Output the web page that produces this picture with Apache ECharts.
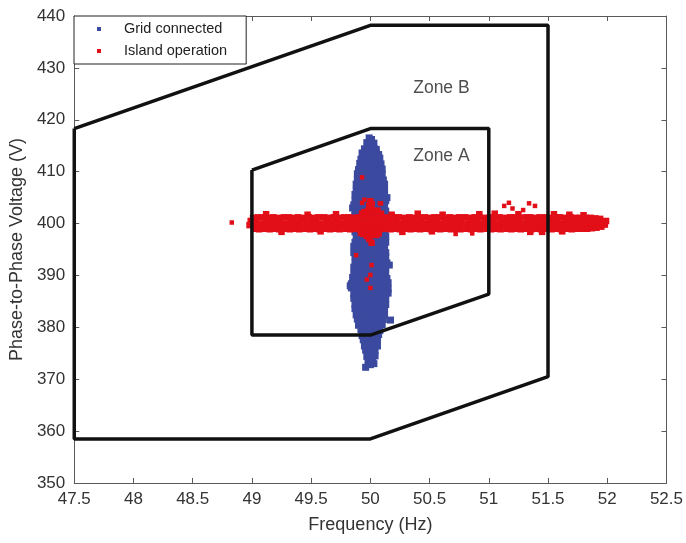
<!DOCTYPE html>
<html>
<head>
<meta charset="utf-8">
<script src="https://cdn.jsdelivr.net/npm/echarts@6/dist/echarts.min.js"></script>
<style>
  html, body { margin: 0; padding: 0; background: #fff; }
  #chart { width: 686px; height: 543px; }
</style>
</head>
<body>
<div id="chart"></div>
<script>
// Axis ticks
const freqTicks = [47.5, 48, 48.5, 49, 49.5, 50, 50.5, 51, 51.5, 52, 52.5];
const voltTicks = [350, 360, 370, 380, 390, 400, 410, 420, 430, 440];

// Operating envelopes (frequency Hz, phase-to-phase voltage V)
const zoneB = [[47.5, 418.3], [50, 438.2], [51.5, 438.2], [51.5, 370.5], [50, 358.5], [47.5, 358.5], [47.5, 418.3]];
const zoneA = [[49, 410.3], [50, 418.3], [51, 418.3], [51, 386.4], [50, 378.5], [49, 378.5], [49, 410.3]];
const zoneLabels = [
  { name: 'Zone B', value: [50.6, 426.0] },
  { name: 'Zone A', value: [50.6, 412.9] }
];

// Measured samples, grid-connected mode
const gridConnected = [
  [49.99,416.5],[50.01,416.2],
  [49.97,415.6],[50.00,415.4],[50.03,415.5],
  [49.95,414.4],[49.99,414.6],[50.03,414.5],[50.05,414.3],
  [49.93,413.6],[49.97,413.4],[50.01,413.5],[50.05,413.6],[50.07,413.3],
  [49.92,412.4],[49.96,412.6],[50.00,412.5],[50.04,412.4],[50.08,412.6],
  [49.91,411.6],[49.95,411.4],[49.99,411.5],[50.03,411.6],[50.07,411.4],[50.09,411.5],
  [49.90,410.4],[49.94,410.6],[49.98,410.5],[50.02,410.4],[50.06,410.6],[50.10,410.5],
  [49.89,409.6],[49.93,409.4],[49.98,409.5],[50.02,409.6],[50.06,409.4],[50.10,409.5],
  [49.89,408.4],[49.93,408.6],[49.97,408.5],[50.01,408.4],[50.05,408.6],[50.09,408.5],[50.11,408.4],
  [49.88,407.6],[49.92,407.4],[49.96,407.5],[50.00,407.6],[50.04,407.4],[50.08,407.5],[50.12,407.6],
  [49.88,406.4],[49.92,406.6],[49.96,406.5],[50.01,406.4],[50.05,406.6],[50.09,406.5],[50.12,406.4],
  [49.87,405.6],[49.91,405.4],[49.95,405.5],[50.00,405.6],[50.04,405.4],[50.08,405.5],[50.12,405.6],
  [49.87,404.4],[49.91,404.6],[49.96,404.5],[50.00,404.4],[50.04,404.6],[50.09,404.5],[50.13,404.4],
  [49.86,403.6],[49.90,403.4],[49.95,403.5],[49.99,403.6],[50.03,403.4],[50.08,403.5],[50.12,403.6],
  [49.87,402.4],[49.91,402.6],[49.95,402.5],[50.00,402.4],[50.04,402.6],[50.09,402.5],[50.13,402.4],
  [49.87,401.6],[49.92,401.4],[49.96,401.5],[50.01,401.6],[50.05,401.4],[50.09,401.5],[50.13,401.6],
  [49.86,400.4],[49.91,400.6],[49.95,400.5],[50.00,400.4],[50.04,400.6],[50.08,400.5],[50.13,400.4],
  [49.87,399.6],[49.91,399.4],[49.96,399.5],[50.00,399.6],[50.05,399.4],[50.09,399.5],[50.13,399.6],
  [49.87,398.4],[49.91,398.6],[49.95,398.5],[50.00,398.4],[50.04,398.6],[50.08,398.5],[50.12,398.4],
  [49.88,397.6],[49.92,397.4],[49.96,397.5],[50.01,397.6],[50.05,397.4],[50.09,397.5],[50.13,397.6],
  [49.87,396.4],[49.91,396.6],[49.96,396.5],[50.00,396.4],[50.04,396.6],[50.09,396.5],[50.13,396.4],
  [49.86,395.6],[49.90,395.4],[49.95,395.5],[49.99,395.6],[50.03,395.4],[50.08,395.5],[50.12,395.6],
  [49.86,394.4],[49.91,394.6],[49.95,394.5],[50.00,394.4],[50.04,394.6],[50.08,394.5],[50.13,394.4],
  [49.87,393.6],[49.91,393.4],[49.96,393.5],[50.00,393.6],[50.05,393.4],[50.09,393.5],[50.13,393.6],
  [49.87,392.4],[49.92,392.6],[49.96,392.5],[50.01,392.4],[50.05,392.6],[50.10,392.5],[50.14,392.4],
  [49.86,391.6],[49.90,391.4],[49.95,391.5],[49.99,391.6],[50.04,391.4],[50.08,391.5],[50.13,391.6],
  [49.86,390.4],[49.91,390.6],[49.95,390.5],[50.00,390.4],[50.04,390.6],[50.09,390.5],[50.13,390.4],
  [49.85,389.6],[49.89,389.4],[49.94,389.5],[49.98,389.6],[50.03,389.4],[50.07,389.5],[50.12,389.6],[50.14,389.4],
  [49.84,388.4],[49.88,388.6],[49.93,388.5],[49.97,388.4],[50.02,388.6],[50.06,388.5],[50.11,388.4],[50.15,388.6],
  [49.84,387.6],[49.89,387.4],[49.93,387.5],[49.98,387.6],[50.02,387.4],[50.07,387.5],[50.11,387.6],[50.15,387.4],
  [49.86,386.4],[49.90,386.6],[49.95,386.5],[49.99,386.4],[50.04,386.6],[50.08,386.5],[50.13,386.4],[50.15,386.6],
  [49.86,385.6],[49.91,385.4],[49.95,385.5],[50.00,385.6],[50.04,385.4],[50.09,385.5],[50.13,385.6],
  [49.87,384.4],[49.91,384.6],[49.96,384.5],[50.00,384.4],[50.05,384.6],[50.09,384.5],[50.13,384.4],
  [49.87,383.6],[49.92,383.4],[49.96,383.5],[50.01,383.6],[50.05,383.4],[50.10,383.5],[50.12,383.6],
  [49.88,382.4],[49.92,382.6],[49.97,382.5],[50.01,382.4],[50.06,382.6],[50.10,382.5],[50.12,382.4],
  [49.89,381.6],[49.93,381.4],[49.97,381.5],[50.02,381.6],[50.06,381.4],[50.11,381.5],
  [49.90,380.4],[49.94,380.6],[49.98,380.5],[50.02,380.4],[50.06,380.6],[50.10,380.5],
  [49.92,379.6],[49.96,379.4],[50.00,379.5],[50.04,379.6],[50.08,379.4],
  [49.93,378.4],[49.97,378.6],[50.01,378.5],[50.05,378.4],[50.07,378.6],
  [49.94,377.6],[49.98,377.4],[50.02,377.5],[50.06,377.6],
  [49.95,376.4],[49.99,376.6],[50.03,376.5],[50.06,376.4],
  [49.96,375.6],[50.00,375.4],[50.04,375.5],
  [49.97,374.4],[50.01,374.6],[50.04,374.5],
  [49.98,373.6],[50.02,373.4],
  [50.00,372.8],[49.96,372.3],[50.03,373.0],
  [50.17,381.4],[49.83,388.0],[50.16,392.0],[49.85,403.0],[50.14,405.0]
];

// Measured samples, island operation (main band)
const islandBand = [
  [48.98,399.7],[48.99,400.5],
  [49.02,399.0],[49.03,400.1],[49.01,401.1],
  [49.06,398.9],[49.07,400.0],[49.05,401.2],
  [49.11,399.0],[49.12,400.1],[49.10,401.2],
  [49.15,398.9],[49.16,400.0],[49.14,401.1],
  [49.19,399.0],[49.20,400.1],[49.18,401.2],
  [49.23,398.9],[49.24,400.1],[49.22,401.1],
  [49.28,399.0],[49.29,400.0],[49.27,401.2],
  [49.32,398.9],[49.33,400.1],[49.31,401.2],
  [49.36,399.0],[49.37,400.0],[49.35,401.1],
  [49.40,398.9],[49.41,400.1],[49.39,401.2],
  [49.45,399.0],[49.46,400.0],[49.44,401.1],
  [49.49,398.9],[49.50,400.1],[49.48,401.2],
  [49.53,399.0],[49.54,400.1],[49.52,401.1],
  [49.57,398.9],[49.58,400.0],[49.56,401.2],
  [49.62,399.0],[49.63,400.1],[49.61,401.2],
  [49.66,398.9],[49.67,400.0],[49.65,401.1],
  [49.70,399.0],[49.71,400.1],[49.69,401.2],
  [49.74,398.9],[49.75,400.0],[49.73,401.1],
  [49.79,399.0],[49.80,400.1],[49.78,401.2],
  [49.83,398.9],[49.84,400.0],[49.82,401.2],
  [49.87,399.0],[49.88,400.1],[49.86,401.1],
  [49.91,398.9],[49.92,400.1],[49.90,401.2],
  [49.96,398.9],[49.97,400.0],[49.95,401.2],
  [50.00,398.9],[50.01,400.1],[49.99,401.2],
  [50.04,399.0],[50.05,400.0],[50.03,401.1],
  [50.08,398.9],[50.09,400.1],[50.07,401.2],
  [50.13,399.0],[50.14,400.0],[50.12,401.2],
  [50.17,398.9],[50.18,400.1],[50.16,401.1],
  [50.21,399.0],[50.22,400.1],[50.20,401.2],
  [50.25,398.9],[50.26,400.0],[50.24,401.2],
  [50.30,399.0],[50.31,400.1],[50.29,401.1],
  [50.34,398.9],[50.35,400.1],[50.33,401.2],
  [50.38,399.0],[50.39,400.0],[50.37,401.1],
  [50.42,398.9],[50.43,400.1],[50.41,401.2],
  [50.47,399.0],[50.48,400.0],[50.46,401.2],
  [50.51,398.9],[50.52,400.1],[50.50,401.1],
  [50.55,399.0],[50.56,400.1],[50.54,401.2],
  [50.59,398.9],[50.60,400.0],[50.58,401.2],
  [50.64,399.0],[50.65,400.1],[50.63,401.1],
  [50.68,398.9],[50.69,400.1],[50.67,401.2],
  [50.72,399.0],[50.73,400.0],[50.71,401.1],
  [50.76,398.9],[50.77,400.1],[50.75,401.2],
  [50.81,399.0],[50.82,400.0],[50.80,401.2],
  [50.85,398.9],[50.86,400.1],[50.84,401.1],
  [50.89,399.0],[50.90,400.1],[50.88,401.2],
  [50.93,398.9],[50.94,400.0],[50.92,401.2],
  [50.98,399.0],[50.99,400.1],[50.97,401.1],
  [51.02,398.9],[51.03,400.1],[51.01,401.2],
  [51.06,399.0],[51.07,400.0],[51.05,401.2],
  [51.10,398.9],[51.11,400.1],[51.09,401.2],
  [51.15,399.0],[51.16,400.0],[51.14,401.1],
  [51.19,398.9],[51.20,400.1],[51.18,401.2],
  [51.23,399.0],[51.24,400.1],[51.22,401.2],
  [51.27,398.9],[51.28,400.0],[51.26,401.1],
  [51.32,399.0],[51.33,400.1],[51.31,401.2],
  [51.36,398.9],[51.37,400.1],[51.35,401.2],
  [51.40,399.0],[51.41,400.0],[51.39,401.1],
  [51.44,398.9],[51.45,400.1],[51.43,401.2],
  [51.49,399.0],[51.50,400.0],[51.48,401.2],
  [51.53,398.9],[51.54,400.1],[51.52,401.1],
  [51.57,399.0],[51.58,400.1],[51.56,401.2],
  [51.61,398.9],[51.62,400.0],[51.60,401.2],
  [51.66,399.0],[51.67,400.1],[51.65,401.1],
  [51.70,398.9],[51.71,400.1],[51.69,401.2],
  [51.74,399.0],[51.75,400.0],[51.73,401.1],
  [51.78,399.0],[51.79,400.1],[51.77,401.1],
  [51.83,399.0],[51.84,400.0],[51.82,401.1],
  [51.87,399.1],[51.88,400.1],[51.86,401.1],
  [51.91,399.2],[51.92,400.1],[51.90,401.0],
  [51.95,399.4],[51.96,400.2],[51.94,400.9],
  [51.98,399.8],[51.99,400.5],
  [49.12,401.8],[49.47,401.7],[49.71,401.8],[50.18,401.7],[50.40,401.9],[50.61,401.7],
  [50.92,401.8],[51.05,401.9],[51.55,401.8],[51.68,401.7],[51.80,401.6],[51.25,401.8],
  [49.25,398.4],[49.58,398.5],[50.27,398.4],[50.52,398.5],[51.35,398.4],[51.62,398.5],[51.45,398.4],
  [49.99,397.0],[50.01,396.3],[50.00,397.8],[50.02,398.0],[49.97,397.6],[49.98,402.4],[50.01,402.9],
  [50.03,402.3],[49.99,403.4],[50.00,404.3],[49.95,402.2],[50.06,402.5],[49.94,398.0],[50.05,397.8],
  [49.93,401.9],[50.09,401.9],[49.92,398.2],[50.07,398.1]
];

// Isolated island-operation samples
const islandSparse = [
  [48.83,400.2],[49.93,408.9],[49.95,404.6],[49.93,404.0],[50.08,403.9],[50.02,403.9],[50.09,403.9],
  [49.88,393.9],[50.01,392.0],[50.00,390.1],[49.97,389.2],[50.00,387.6],
  [51.13,403.4],[51.17,404.0],[51.20,402.9],[51.29,402.6],[51.34,403.9],[51.39,403.4],
  [50.72,398.0],[50.86,398.1]
];

const BLUE = '#3b4a9f';
const RED = '#e20e18';
const FONT = '"Liberation Sans", Arial, Helvetica, sans-serif';

const chart = echarts.init(document.getElementById('chart'), null, { renderer: 'canvas' });

const axisColor = '#5a5a5a';
function freqAxis(pos, labels) {
  return {
    type: 'value', position: pos,
    min: freqTicks[0], max: freqTicks[freqTicks.length - 1],
    interval: freqTicks[1] - freqTicks[0],
    axisLine: { show: true, onZero: false, lineStyle: { color: axisColor, width: 1 } },
    axisTick: { show: true, inside: true, length: 5, lineStyle: { color: axisColor } },
    axisLabel: { show: labels, fontSize: 17, color: '#333', fontFamily: FONT, margin: 8 },
    splitLine: { show: false }
  };
}
function voltAxis(pos, labels) {
  return {
    type: 'value', position: pos,
    min: voltTicks[0], max: voltTicks[voltTicks.length - 1],
    interval: voltTicks[1] - voltTicks[0],
    axisLine: { show: true, onZero: false, lineStyle: { color: axisColor, width: 1 } },
    axisTick: { show: true, inside: true, length: 5, lineStyle: { color: axisColor } },
    axisLabel: { show: labels, fontSize: 17, color: '#333', fontFamily: FONT, margin: 9 },
    splitLine: { show: false }
  };
}

const xBottom = Object.assign(freqAxis('bottom', true), {
  name: 'Frequency (Hz)', nameLocation: 'middle', nameGap: 33,
  nameTextStyle: { fontSize: 18, color: '#333', fontFamily: FONT }
});
const yLeft = Object.assign(voltAxis('left', true), {
  name: 'Phase-to-Phase Voltage (V)', nameLocation: 'middle', nameGap: 45,
  nameTextStyle: { fontSize: 18, color: '#333', fontFamily: FONT }
});

const pointStyle = (c) => ({ color: c, opacity: 1, borderWidth: 0 });

const option = {
  animation: false,
  backgroundColor: '#fff',
  grid: { left: 74, right: 19, top: 16, bottom: 60, containLabel: false },
  xAxis: [xBottom, freqAxis('top', false)],
  yAxis: [yLeft, voltAxis('right', false)],
  legend: {
    left: 74, top: 16, orient: 'vertical',
    data: ['Grid connected', 'Island operation'],
    icon: 'rect', itemWidth: 4, itemHeight: 4, itemGap: 4,
    padding: [4, 19, 4, 23],
    borderColor: '#222', borderWidth: 1, borderRadius: 0,
    backgroundColor: '#fff',
    selectedMode: false,
    itemStyle: { opacity: 1 },
    textStyle: { fontSize: 14.5, color: '#222', fontFamily: FONT, lineHeight: 18, padding: [0, 0, 0, 18] }
  },
  series: [
    {
      name: 'Grid connected', type: 'scatter', data: gridConnected,
      symbol: 'rect', symbolSize: 7, itemStyle: pointStyle(BLUE),
      z: 2, silent: true
    },
    {
      name: 'Island operation', type: 'scatter', data: islandBand,
      symbol: 'rect', symbolSize: 6.5, itemStyle: pointStyle(RED),
      z: 3, silent: true
    },
    {
      name: 'Island operation', type: 'scatter', data: islandSparse,
      symbol: 'rect', symbolSize: 4.5, itemStyle: pointStyle(RED),
      z: 4, silent: true
    },
    {
      name: 'Zone B', type: 'line', data: zoneB, showSymbol: false, clip: false,
      lineStyle: { color: '#111', width: 3.5 }, z: 5, silent: true
    },
    {
      name: 'Zone A', type: 'line', data: zoneA, showSymbol: false, clip: false,
      lineStyle: { color: '#111', width: 3.5 }, z: 5, silent: true
    },
    {
      name: 'zone-labels', type: 'scatter', data: zoneLabels, symbolSize: 0,
      label: { show: true, position: 'inside', formatter: '{b}', fontSize: 17.5, color: '#222', fontFamily: FONT },
      z: 6, silent: true
    }
  ]
};

chart.setOption(option);
</script>
</body>
</html>
